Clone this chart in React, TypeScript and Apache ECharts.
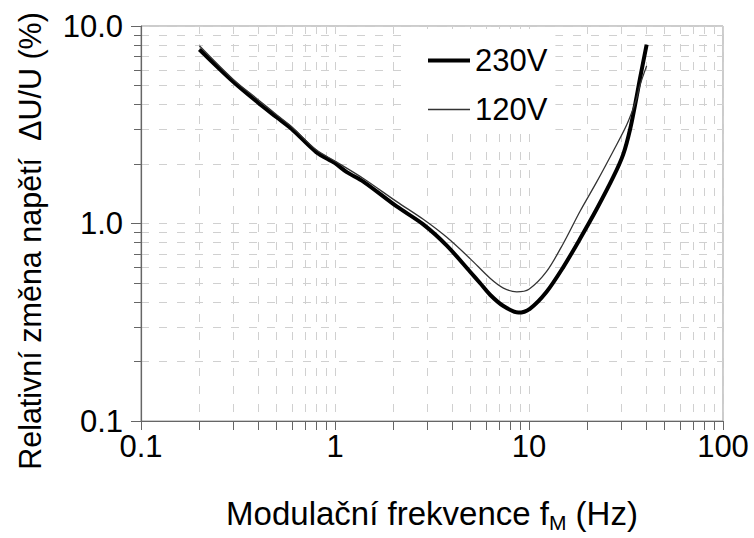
import React, { useEffect, useRef } from "react";
import * as echarts from "echarts";

// Modulation frequency (Hz) and relative voltage change (%)
const FREQ_230 = [0.2, 0.3, 0.4, 0.5, 0.6, 0.8, 1.0, 1.15, 1.4, 2.08, 2.85, 3.77, 4.97, 5.59, 6.3, 7.38, 8.81, 10.1, 12.3, 15.0, 18.3, 22.3, 27.2, 30.6, 33.2, 35.9, 37.3, 40.4];
const VAL_230 = [7.6, 5.2, 4.1, 3.45, 3.0, 2.3, 2.02, 1.82, 1.63, 1.22, 0.99, 0.773, 0.57, 0.5, 0.436, 0.382, 0.354, 0.37, 0.45, 0.6, 0.835, 1.18, 1.72, 2.24, 3.0, 4.4, 5.4, 8.05];

const FREQ_120 = [0.2, 0.3, 0.4, 0.5, 0.6, 0.8, 1.0, 1.4, 2.08, 2.85, 3.77, 4.97, 6.3, 7.38, 8.65, 10.0, 12.3, 15.0, 18.3, 22.3, 27.2, 31.9, 35.9, 37.3, 40.4];
const VAL_120 = [7.95, 5.35, 4.25, 3.55, 3.08, 2.36, 2.07, 1.69, 1.29, 1.05, 0.851, 0.664, 0.528, 0.471, 0.451, 0.465, 0.57, 0.79, 1.15, 1.62, 2.33, 3.16, 4.3, 5.0, 6.28];

const SERIES_NAMES = ["230V", "120V"];
const X_TITLE = "{a|Modulační frekvence f}{s|M}{a| (Hz)}";
const Y_TITLE = "Relativní změna napětí  ΔU/U (%)";

const FONT = "Liberation Sans";
const FS = 31;

export default function App() {
  const ref = useRef<HTMLDivElement>(null);

  useEffect(() => {
    if (!ref.current) return;
    const chart = echarts.init(ref.current, undefined, { renderer: "svg" });

    const gridLine = { color: "#d0d0d0", width: 1, type: [8, 10] as number[] };
    const axisCol = "#666666";

    const axisCommon = {
      type: "log" as const,
      logBase: 10,
      axisLine: { show: true, lineStyle: { color: axisCol, width: 1.2 } },
      splitLine: { show: true, lineStyle: gridLine },
      minorSplitLine: { show: true, lineStyle: gridLine },
    };

    chart.setOption({
      animation: false,
      backgroundColor: "#ffffff",
      grid: {
        left: 141,
        right: 31,
        top: 26,
        bottom: 109,
        show: true,
        borderColor: "#999999",
        borderWidth: 1,
      },
      legend: {
        data: [
          { name: SERIES_NAMES[0], itemStyle: { opacity: 0 }, lineStyle: { width: 4, color: "#000" } },
          { name: SERIES_NAMES[1], itemStyle: { opacity: 0 }, lineStyle: { width: 1.3, color: "#333" } },
        ],
        orient: "vertical",
        left: 410,
        top: 29,
        itemWidth: 42,
        itemHeight: 14,
        itemGap: 18,
        backgroundColor: "#ffffff",
        padding: [16, 8, 6, 16],
        textStyle: { fontSize: FS, fontFamily: FONT, color: "#000", lineHeight: 31 },
      },
      xAxis: {
        ...axisCommon,
        min: 0.1,
        max: 100,
        axisTick: { show: true, length: 9, lineStyle: { color: axisCol } },
        minorTick: { show: true, splitNumber: 9, length: 9, lineStyle: { color: axisCol } },
        axisLabel: {
          fontSize: FS,
          fontFamily: FONT,
          color: "#000",
          margin: 10,
          showMinLabel: true,
          showMaxLabel: true,
          formatter: (v: number) => String(v),
        },
        name: X_TITLE,
        nameLocation: "middle",
        nameGap: 73,
        nameTextStyle: {
          fontSize: 33,
          fontFamily: FONT,
          color: "#000",
          rich: {
            a: { fontSize: 33, fontFamily: FONT, color: "#000" },
            s: { fontSize: 21, fontFamily: FONT, color: "#000", padding: [18, 0, 0, 0] },
          },
        },
      },
      yAxis: {
        ...axisCommon,
        min: 0.1,
        max: 10,
        axisTick: { show: true, length: 10, lineStyle: { color: axisCol } },
        minorTick: { show: true, splitNumber: 9, length: 7, lineStyle: { color: axisCol } },
        axisLabel: {
          fontSize: FS,
          fontFamily: FONT,
          color: "#000",
          margin: 18,
          showMinLabel: true,
          showMaxLabel: true,
          formatter: (v: number) => v.toFixed(1),
        },
      },
      graphic: [
        {
          type: "text",
          x: 30,
          y: 241,
          rotation: Math.PI / 2,
          style: {
            text: Y_TITLE,
            fontSize: 30.5,
            fontFamily: FONT,
            fill: "#000",
            textAlign: "center",
            textVerticalAlign: "middle",
          },
        },
      ],
      series: [
        {
          name: SERIES_NAMES[0],
          type: "line",
          data: FREQ_230.map((f, i) => [f, VAL_230[i]]),
          symbol: "none",
          smooth: 0.3,
          lineStyle: { color: "#000000", width: 4 },
          itemStyle: { color: "#000000" },
          z: 2,
        },
        {
          name: SERIES_NAMES[1],
          type: "line",
          data: FREQ_120.map((f, i) => [f, VAL_120[i]]),
          symbol: "none",
          smooth: 0.3,
          lineStyle: { color: "#333333", width: 1.3 },
          itemStyle: { color: "#333333" },
          z: 3,
        },
      ],
    });

    return () => chart.dispose();
  }, []);

  return <div ref={ref} style={{ width: 754, height: 538, position: "absolute", left: 0, top: 0 }} />;
}
